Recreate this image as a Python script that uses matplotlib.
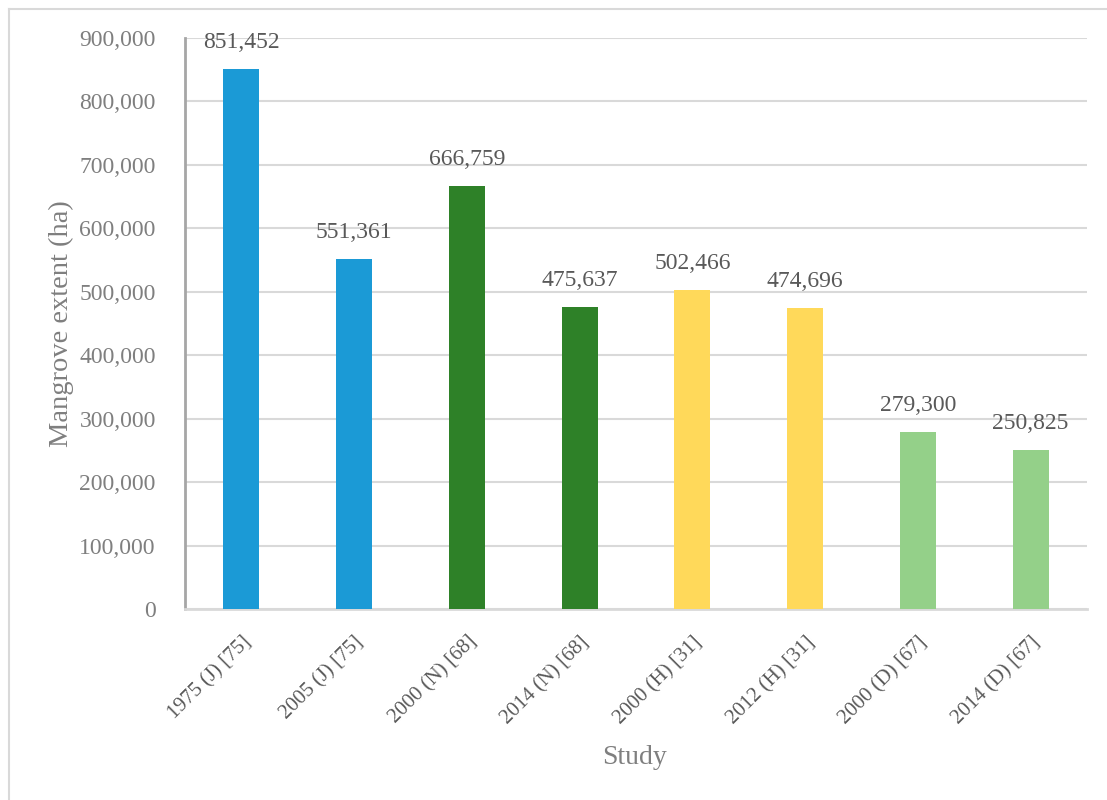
import matplotlib
matplotlib.use("Agg")
import matplotlib.pyplot as plt
from matplotlib.lines import Line2D
from matplotlib.ticker import FuncFormatter, MultipleLocator

categories = ["1975 (J) [75]", "2005 (J) [75]", "2000 (N) [68]", "2014 (N) [68]",
              "2000 (H) [31]", "2012 (H) [31]", "2000 (D) [67]", "2014 (D) [67]"]
values = [851452, 551361, 666759, 475637, 502466, 474696, 279300, 250825]
colors = ["#1b9ad6", "#1b9ad6", "#2e8128", "#2e8128",
          "#ffd95a", "#ffd95a", "#94d089", "#94d089"]
y_label = "Mangrove extent (ha)"
x_label = "Study"

plt.rcParams['font.family'] = ['Liberation Serif', 'DejaVu Serif']

fig = plt.figure(figsize=(11.07, 8.0), dpi=100)
ax = fig.add_axes([185/1107, 1-609/800, (1087-185)/1107, (609-38)/800])

x = list(range(len(categories)))
ax.bar(x, values, width=0.32, color=colors, zorder=3)
ax.set_xlim(-0.5, len(categories)-0.5)
ax.set_ylim(0, 900000)
ax.yaxis.set_major_locator(MultipleLocator(100000))
ax.yaxis.set_major_formatter(FuncFormatter(lambda v, p: f"{int(v):,}"))
ax.grid(axis='y', color='#d9d9d9', linewidth=1.5, zorder=0)
ax.set_axisbelow(True)

for s in ['top', 'right']:
    ax.spines[s].set_visible(False)
ax.spines['left'].set_color('#a6a6a6')
ax.spines['left'].set_linewidth(2)
ax.spines['bottom'].set_color('#d9d9d9')
ax.spines['bottom'].set_linewidth(2)

ax.tick_params(axis='y', length=0, labelsize=17, labelcolor='#7f7f7f', pad=21)
ax.tick_params(axis='x', length=0, labelsize=15, labelcolor='#595959', pad=17)
ax.set_xticks(x)
ax.set_xticklabels(categories, rotation=45, ha='right', rotation_mode='anchor')

for xi, v in zip(x, values):
    ax.annotate(f"{v:,}", (xi, v), xytext=(0, 19), textcoords='offset points',
                ha='center', va='center', fontsize=17, color='#595959')

ax.set_ylabel(y_label, fontsize=20.5, color='#7f7f7f', labelpad=4)
fig.text(635/1107, 1-757/800, x_label, fontsize=20, color='#7f7f7f',
         ha='center', va='center')

fig.add_artist(Line2D([9/1107, 9/1107], [0, 1-9/800], transform=fig.transFigure,
                      color='#d9d9d9', linewidth=1.5))
fig.add_artist(Line2D([9/1107, 1], [1-9/800, 1-9/800], transform=fig.transFigure,
                      color='#d9d9d9', linewidth=1.5))

fig.savefig("out.png", dpi=100)
